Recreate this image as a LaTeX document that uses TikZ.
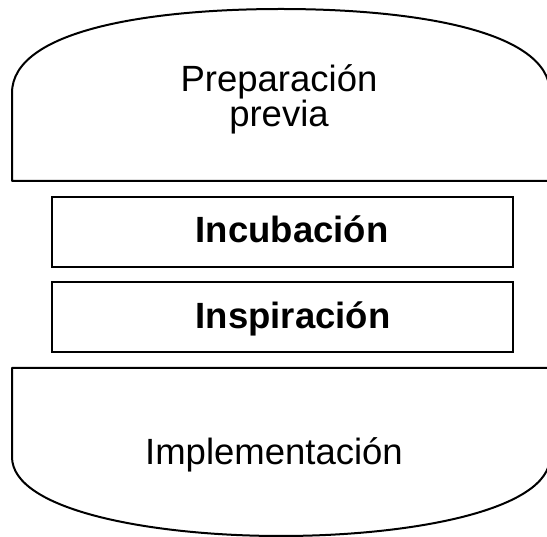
\documentclass[tikz,border=0pt]{standalone}
\usepackage{fontspec}
\setmainfont{Liberation Sans}
\begin{document}
\begin{tikzpicture}[x=1pt,y=-1pt,
  outline/.style={draw=black,line width=2pt,line join=round},
  stagebox/.style={draw=black,line width=2pt,minimum width=461pt,minimum height=70pt,inner sep=0pt},
  plain/.style={font=\fontsize{36.5}{38}\selectfont,align=center,anchor=base,inner sep=0pt},
  boldtxt/.style={font=\fontsize{36.5}{38}\selectfont\bfseries,anchor=base,inner sep=0pt}]
\useasboundingbox (0,0) rectangle (547,537);
\clip (0,0) rectangle (547,537);
% top dome
\draw[outline] (12,181) -- (12,93) .. controls (12,30) and (150,9) .. (281,9)
  .. controls (412,9) and (550,30) .. (550,93) -- (550,181) -- cycle;
% bottom bowl
\draw[outline] (12,368) -- (12,457) .. controls (12,510) and (150,536) .. (281,536)
  .. controls (412,536) and (550,510) .. (550,457) -- (550,368) -- cycle;
% boxes
\node[stagebox] (b1) at (282.5,232) {};
\node[stagebox] (b2) at (282.5,317.5) {};
% texts
\node[plain] (prep1) at (279,92) {Preparación};
\node[plain] (prep2) at (279,127) {previa};
\node[boldtxt] (inc) at (292,243) {Incubación};
\node[boldtxt] (insp) at (293,329) {Inspiración};
\node[plain] (impl) at (274,465) {Implementación};
\end{tikzpicture}
\end{document}
